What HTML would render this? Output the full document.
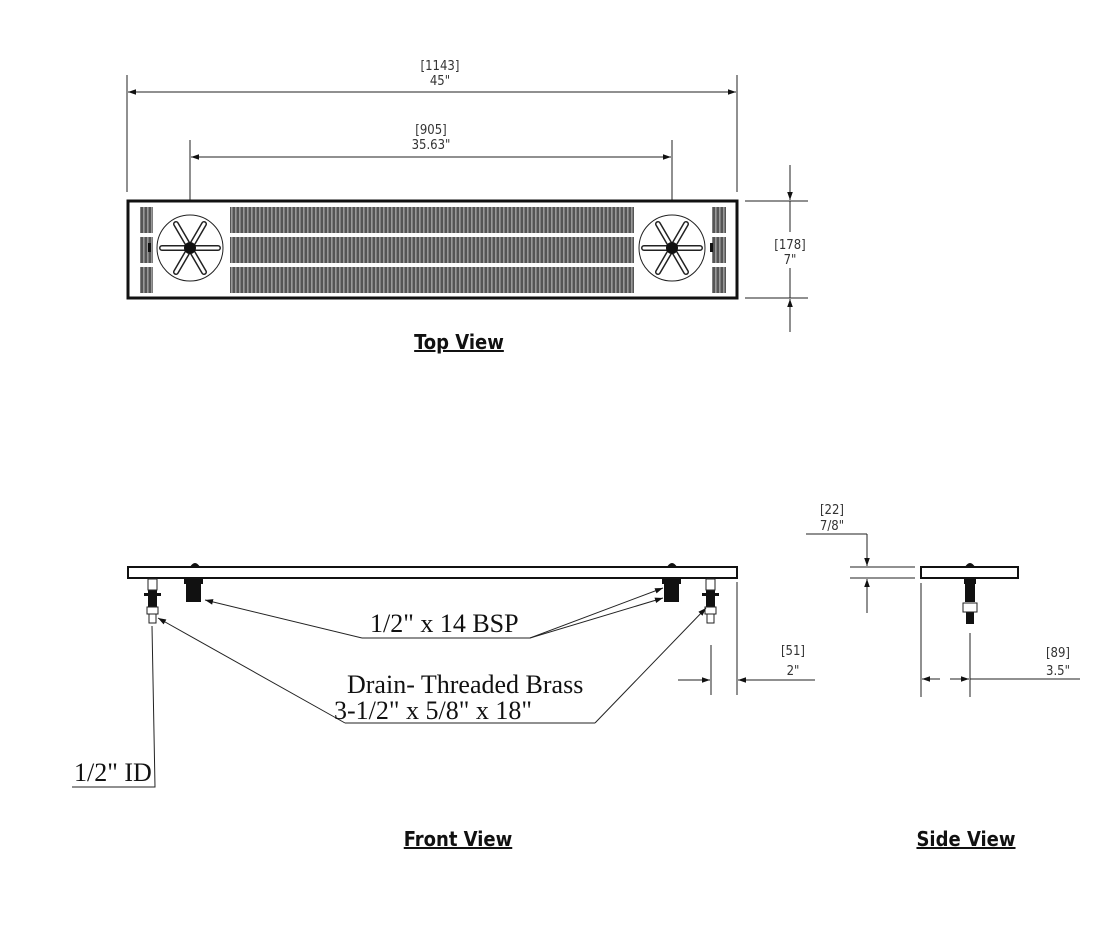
<!DOCTYPE html>
<html><head><meta charset="utf-8"><style>
html,body{margin:0;padding:0;background:#fff;width:1112px;height:930px;overflow:hidden}
svg{display:block}
.dim{font-family:"DejaVu Sans Condensed","Liberation Sans",sans-serif;font-size:13px;fill:#333;text-anchor:middle}
.lbl{font-family:"Liberation Serif",serif;font-size:26px;fill:#111}
.ttl{font-family:"DejaVu Sans Condensed","Liberation Sans",sans-serif;font-weight:bold;font-size:20px;fill:#111;text-anchor:middle;text-decoration:underline}
</style></head><body>
<svg width="1112" height="930" viewBox="0 0 1112 930" xmlns="http://www.w3.org/2000/svg">
<defs>
<pattern id="sl" width="4" height="40" patternUnits="userSpaceOnUse"><rect x="0" y="0" width="4" height="40" fill="#ddd"/><rect x="0.3" y="0" width="3.2" height="40" fill="#555"/></pattern>
<marker id="ar" viewBox="0 0 10 10" refX="10" refY="5" markerWidth="12" markerHeight="8" orient="auto-start-reverse" markerUnits="userSpaceOnUse"><path d="M0,1.5 L10,5 L0,8.5 z" fill="#111"/></marker>
</defs>
<g stroke="#222" stroke-width="1" fill="none">
<line x1="127" y1="75" x2="127" y2="192"/><line x1="737" y1="75" x2="737" y2="192"/>
<line x1="128" y1="92" x2="736" y2="92" marker-start="url(#ar)" marker-end="url(#ar)"/>
<line x1="190" y1="140" x2="190" y2="248"/><line x1="672" y1="140" x2="672" y2="248"/>
<line x1="191" y1="157" x2="671" y2="157" marker-start="url(#ar)" marker-end="url(#ar)"/>
<line x1="745" y1="201" x2="808" y2="201"/><line x1="745" y1="298" x2="808" y2="298"/>
<line x1="790" y1="165" x2="790" y2="200" marker-end="url(#ar)"/>
<line x1="790" y1="332" x2="790" y2="299" marker-end="url(#ar)"/>
<line x1="790" y1="201" x2="790" y2="232"/><line x1="790" y1="268" x2="790" y2="298"/>
</g>
<text class="dim" x="440" y="70">[1143]</text><text class="dim" x="440" y="85">45"</text>
<text class="dim" x="431" y="134">[905]</text><text class="dim" x="431" y="149">35.63"</text>
<text class="dim" x="790" y="249">[178]</text><text class="dim" x="790" y="264">7"</text>
<rect x="128" y="201" width="609" height="97" fill="#fff" stroke="#111" stroke-width="3"/>
<g fill="url(#sl)">
<rect x="140" y="207" width="13" height="26"/><rect x="140" y="237" width="13" height="26"/><rect x="140" y="267" width="13" height="26"/>
<rect x="230" y="207" width="404" height="26"/><rect x="230" y="237" width="404" height="26"/><rect x="230" y="267" width="404" height="26"/>
<rect x="712" y="207" width="14" height="26"/><rect x="712" y="237" width="14" height="26"/><rect x="712" y="267" width="14" height="26"/>
</g>
<g stroke="#222" fill="#fff">
<circle cx="190" cy="248" r="33"/><circle cx="672" cy="248" r="33"/>
</g>
<g stroke="#222" stroke-width="6" stroke-linecap="round">
<path d="M162 248H218M176 224L204 272M204 224L176 272M644 248H700M658 224L686 272M686 224L658 272"/>
</g>
<g stroke="#fff" stroke-width="3" stroke-linecap="round">
<path d="M162 248H218M176 224L204 272M204 224L176 272M644 248H700M658 224L686 272M686 224L658 272"/>
</g>
<circle cx="190" cy="248" r="6" fill="#111"/><circle cx="672" cy="248" r="6" fill="#111"/>
<rect x="148" y="243" width="3" height="9" fill="#111"/><rect x="710" y="243" width="3" height="9" fill="#111"/>
<text class="ttl" x="459" y="349">Top View</text>

<path d="M190 567 Q195 559 200 567Z M667 567 Q672 559 677 567Z" fill="#111"/>
<rect x="128" y="567" width="609" height="11" fill="#fff" stroke="#111" stroke-width="2"/>
<g fill="#111">
<rect x="184" y="579" width="19" height="5"/><rect x="186" y="584" width="15" height="18"/>
<rect x="662" y="579" width="19" height="5"/><rect x="664" y="584" width="15" height="18"/>
<rect x="148" y="590" width="9" height="20"/><rect x="144" y="593" width="17" height="3"/>
<rect x="706" y="590" width="9" height="20"/><rect x="702" y="593" width="17" height="3"/>
</g>
<g stroke="#222" fill="#fff">
<rect x="148" y="579" width="9" height="11"/><rect x="147" y="607" width="11" height="7"/><rect x="149" y="614" width="7" height="9"/>
<rect x="706" y="579" width="9" height="11"/><rect x="705" y="607" width="11" height="7"/><rect x="707" y="614" width="7" height="9"/>
</g>
<g stroke="#222" stroke-width="1" fill="none">
<polyline points="362,638 530,638"/>
<line x1="362" y1="638" x2="205" y2="600" marker-end="url(#ar)"/>
<line x1="530" y1="638" x2="663" y2="588" marker-end="url(#ar)"/>
<line x1="530" y1="638" x2="663" y2="598" marker-end="url(#ar)"/>
<line x1="345" y1="723" x2="595" y2="723"/>
<line x1="345" y1="723" x2="158" y2="618" marker-end="url(#ar)"/>
<line x1="595" y1="723" x2="706" y2="608" marker-end="url(#ar)"/>
<polyline points="72,787 155,787 152,626"/>
</g>
<text class="lbl" x="370" y="632">1/2" x 14 BSP</text>
<text class="lbl" x="347" y="693">Drain- Threaded Brass</text>
<text class="lbl" x="334" y="719">3-1/2" x 5/8" x 18"</text>
<text class="lbl" x="74" y="781">1/2" ID</text>
<g stroke="#222" stroke-width="1">
<line x1="711" y1="645" x2="711" y2="695"/><line x1="737" y1="582" x2="737" y2="695"/>
<line x1="678" y1="680" x2="710" y2="680" marker-end="url(#ar)"/>
<line x1="815" y1="680" x2="738" y2="680" marker-end="url(#ar)"/>
</g>
<text class="dim" x="793" y="655">[51]</text><text class="dim" x="793" y="675">2"</text>
<text class="ttl" x="458" y="846">Front View</text>

<path d="M965 567 Q970 559 975 567Z" fill="#111"/>
<rect x="921" y="567" width="97" height="11" fill="#fff" stroke="#111" stroke-width="2"/>
<g fill="#111"><rect x="964" y="579" width="12" height="5"/><rect x="965" y="584" width="10" height="18"/><rect x="966" y="612" width="8" height="12"/></g>
<rect x="963" y="603" width="14" height="9" fill="#fff" stroke="#222"/>
<g stroke="#222" stroke-width="1">
<line x1="806" y1="534" x2="867" y2="534"/>
<line x1="850" y1="567" x2="915" y2="567"/><line x1="850" y1="578" x2="915" y2="578"/>
<line x1="867" y1="534" x2="867" y2="566" marker-end="url(#ar)"/>
<line x1="867" y1="613" x2="867" y2="579" marker-end="url(#ar)"/>
<line x1="921" y1="583" x2="921" y2="697"/><line x1="970" y1="633" x2="970" y2="697"/>
<line x1="940" y1="679" x2="922" y2="679" marker-end="url(#ar)"/>
<line x1="950" y1="679" x2="969" y2="679" marker-end="url(#ar)"/>
<line x1="970" y1="679" x2="1080" y2="679"/>
</g>
<text class="dim" x="832" y="514">[22]</text><text class="dim" x="832" y="530">7/8"</text>
<text class="dim" x="1058" y="657">[89]</text><text class="dim" x="1058" y="675">3.5"</text>
<text class="ttl" x="966" y="846">Side View</text>
</svg>
</body></html>
